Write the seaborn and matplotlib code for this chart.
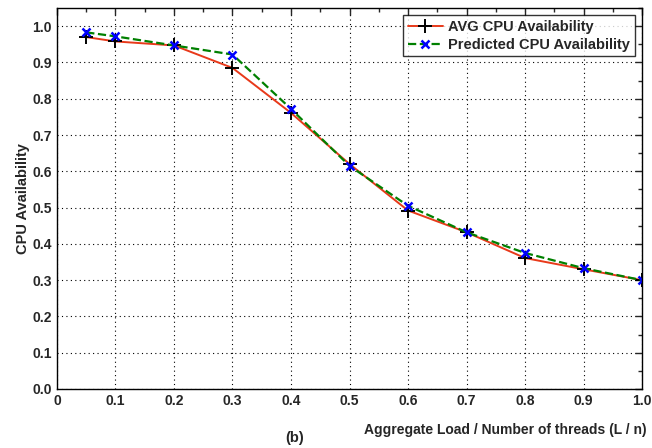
import numpy as np
import pandas as pd
import seaborn as sns
import matplotlib
matplotlib.use('Agg')
import matplotlib.pyplot as plt
from matplotlib.ticker import MultipleLocator, FormatStrFormatter

# data
load = [0.05, 0.1, 0.2, 0.3, 0.4, 0.5, 0.6, 0.7, 0.8, 0.9, 1.0]
avg_cpu = [0.970, 0.958, 0.947, 0.885, 0.761, 0.620, 0.492, 0.432, 0.361, 0.330, 0.300]
pred_cpu = [0.983, 0.972, 0.947, 0.922, 0.772, 0.615, 0.505, 0.432, 0.375, 0.333, 0.300]
xticks = [0, 0.1, 0.2, 0.3, 0.4, 0.5, 0.6, 0.7, 0.8, 0.9, 1.0]
xticklabels = ['0', '0.1', '0.2', '0.3', '0.4', '0.5', '0.6', '0.7', '0.8', '0.9', '1.0']

df = pd.DataFrame({'load': load, 'avg': avg_cpu, 'pred': pred_cpu})

sns.set_style('white')
plt.rcParams['font.family'] = ['Liberation Sans', 'DejaVu Sans']
plt.rcParams['font.weight'] = 'bold'

fig = plt.figure(figsize=(6.52, 4.48), dpi=100)
ax = fig.add_axes([0.0874, 0.1317, 0.8973, 0.8503])

sns.lineplot(data=df, x='load', y='avg', ax=ax, color='#e8391a', lw=1.4,
             marker='+', markersize=10, markeredgecolor='black', markeredgewidth=1.4,
             label='AVG CPU Availability')
sns.lineplot(data=df, x='load', y='pred', ax=ax, color='#008000', lw=1.6,
             linestyle='--', dashes=(4, 2.5), marker='x', markersize=6,
             markeredgecolor='blue', markeredgewidth=1.8,
             label='Predicted CPU Availability')

ax.set_xlim(0, 1.0)
ax.set_ylim(0, 1.05)
ax.set_xticks(xticks)
ax.set_xticklabels(xticklabels)
ax.yaxis.set_major_locator(MultipleLocator(0.1))
ax.yaxis.set_major_formatter(FormatStrFormatter('%.1f'))
ax.xaxis.set_minor_locator(MultipleLocator(0.05))
ax.yaxis.set_minor_locator(MultipleLocator(0.05))
ax.tick_params(which='both', direction='in', top=True, right=True, labelsize=10)
ax.tick_params(which='major', length=5, width=1)
ax.tick_params(which='minor', length=3, width=1)
for lab in ax.get_xticklabels() + ax.get_yticklabels():
    lab.set_fontweight('bold')
ax.grid(True, which='major', linestyle=(0, (1, 3)), color='black', lw=0.8)
for s in ax.spines.values():
    s.set_color('black')
    s.set_linewidth(1.0)

ax.set_ylabel('CPU Availability', fontsize=10.5, fontweight='bold', labelpad=2)
ax.set_xlabel('')
fig.text(0.992, 0.040, 'Aggregate Load / Number of threads (L / n)', ha='right', va='center',
         fontsize=10, fontweight='bold')
fig.text(0.452, 0.022, '(b)', ha='center', va='center', fontsize=10.5, fontweight='bold')

leg = ax.legend(loc='upper right', fontsize=10.5, frameon=True, fancybox=False,
                edgecolor='black', handlelength=2.4, borderaxespad=0.5,
                borderpad=0.3, labelspacing=0.3, handletextpad=0.4)
leg.get_frame().set_linewidth(1.0)
for t in leg.get_texts():
    t.set_fontweight('bold')

fig.savefig('out.png', dpi=100)
